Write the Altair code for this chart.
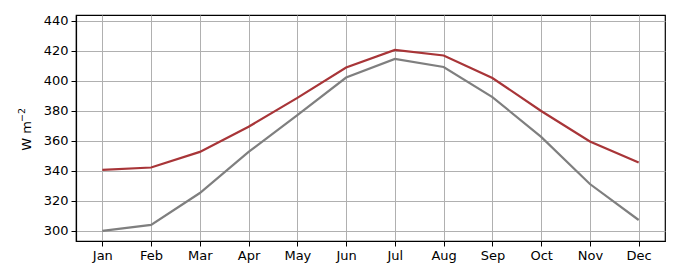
import altair as alt
import pandas as pd

months = ["Jan", "Feb", "Mar", "Apr", "May", "Jun", "Jul", "Aug", "Sep", "Oct", "Nov", "Dec"]
red_vals = [340.7, 342.3, 352.7, 369.5, 388.7, 409.0, 420.7, 417.0, 402.0, 380.0, 359.7, 345.7]
gray_vals = [300.0, 304.0, 325.3, 352.7, 377.3, 402.3, 414.7, 409.3, 389.3, 362.7, 331.3, 307.3]
series = ["red", "gray"]
colors = ["#a83538", "#7f7f7f"]
title_main = ["W m"]
title_sup = ["\u22122"]

rows = []
for m, r, g in zip(months, red_vals, gray_vals):
    rows.append({"month": m, "value": r, "series": "red"})
    rows.append({"month": m, "value": g, "series": "gray"})
df = pd.DataFrame(rows)

font = "DejaVu Sans"

lines = alt.Chart(df).mark_line(strokeWidth=2.2).encode(
    x=alt.X("month:N", sort=months,
            scale=alt.Scale(type="point", padding=0.54),
            axis=alt.Axis(title=None, labelAngle=0, grid=True)),
    y=alt.Y("value:Q",
            scale=alt.Scale(domain=[293.3, 444], nice=False, zero=False),
            axis=alt.Axis(title=None, values=list(range(300, 441, 20)), grid=True)),
    color=alt.Color("series:N", scale=alt.Scale(domain=series, range=colors), legend=None),
    detail="series:N",
)

t1 = alt.Chart(pd.DataFrame({"t": title_main})).mark_text(
    font=font, fontSize=13, angle=270, align="center", baseline="middle", color="black"
).encode(text="t:N", x=alt.value(-49), y=alt.value(121))

t2 = alt.Chart(pd.DataFrame({"t": title_sup})).mark_text(
    font=font, fontSize=9.5, angle=270, align="center", baseline="middle", color="black"
).encode(text="t:N", x=alt.value(-54), y=alt.value(100))

chart = alt.layer(lines, t1, t2).properties(
    width=589, height=226,
    autosize=alt.AutoSizeParams(type="none"),
    padding={"left": 76, "top": 15, "right": 15, "bottom": 39},
).configure_view(
    stroke="black", strokeWidth=1.2
).configure_axis(
    labelFont=font, titleFont=font, labelFontSize=13, titleFontSize=13,
    titleFontWeight="normal", labelColor="black", titleColor="black",
    gridColor="#b0b0b0", gridWidth=1, gridOpacity=1,
    domainColor="black", domainWidth=1.2,
    tickColor="black", tickSize=5, tickWidth=1,
    labelPadding=3,
)

chart.save("out.html", embed_options={"renderer": "svg", "actions": False})
